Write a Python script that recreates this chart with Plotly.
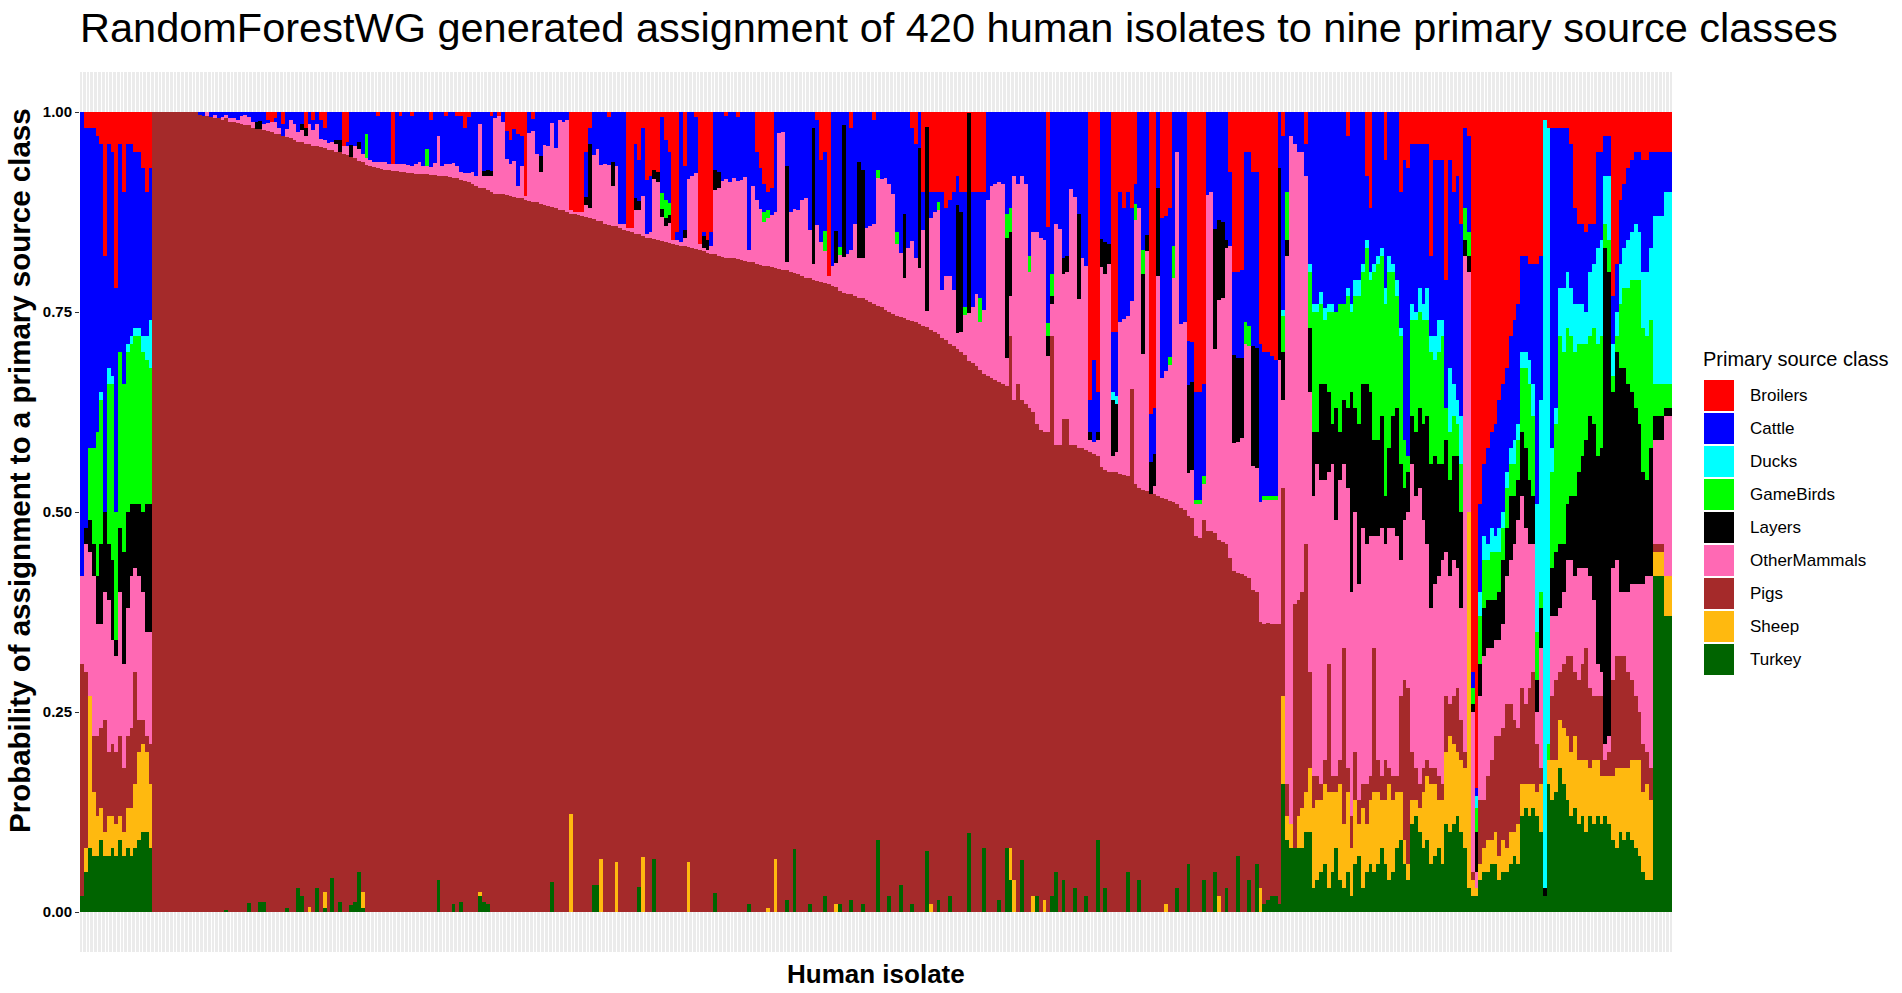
import plotly.graph_objects as go

# share of each human isolate (1..420, left to right) given to each source class,
# in percent -- 20 isolates per line
turkey = [
    2, 5, 8, 7, 7, 9, 7, 7, 8, 7, 9, 7, 8, 7, 8, 9, 10, 10, 8, 0,
    0, 0, 0, 0, 0, 0, 0, 0, 0, 0, 0, 0, 0, 0, 0, 0, 0, 0, 0.3, 0,
    0, 0, 0, 0, 1.1, 0, 0, 1.2, 1.2, 0, 0, 0, 0, 0, 0.5, 0, 0, 3.0, 2.0, 0,
    0, 0, 3.0, 0, 0.5, 0, 4.2, 0, 1.2, 0, 0, 0.9, 1.3, 5.0, 0.5, 0, 0, 0, 0, 0,
    0, 0, 0, 0, 0, 0, 0, 0, 0, 0, 0, 0, 0, 0, 4.0, 0, 0, 0, 1.0, 0,
    1.2, 0, 0, 0, 0, 2.0, 1.2, 1.0, 0, 0, 0, 0, 0, 0, 0, 0, 0, 0, 0, 0,
    0, 0, 0, 0, 3.7, 0, 0, 0, 0, 0, 0, 0, 0, 0, 0, 3.4, 3.4, 0, 0, 0,
    0, 0, 0, 0, 0, 0, 0, 3.1, 0, 0, 0, 6.6, 0, 0, 0, 0, 0, 0, 0, 0,
    0, 0, 0, 0, 0, 0, 0, 2.4, 0, 0, 0, 0, 0, 0, 0, 0, 1.0, 0, 0, 0,
    0, 0, 0, 0, 0, 0, 1.5, 0, 7.9, 0, 0, 0, 1.0, 0, 0, 0, 2.0, 0, 0, 0,
    1.0, 0, 0, 1.5, 0, 0, 1.0, 0, 0, 0, 9.0, 0, 0, 2.0, 0, 0, 3.4, 0, 0, 1.0,
    0, 0, 0, 7.6, 0, 0, 1.5, 0, 0, 2.0, 0, 0, 0, 0, 9.9, 0, 0, 0, 8.0, 0,
    0, 0, 1.5, 0, 8.0, 4.0, 0, 0, 6.5, 0, 0, 0, 2.0, 0, 0, 0, 2.0, 5.0, 0, 4.0,
    0, 0, 3.0, 0, 0, 2.0, 0, 0, 9.0, 0, 3.0, 0, 0, 0, 0, 0, 5.0, 0, 0, 4.0,
    0, 0, 0, 0, 0, 0, 0, 0, 0, 3.0, 0, 0, 6.0, 0, 0, 0, 4.0, 0, 0, 5.0,
    0, 0, 3.0, 0, 0, 7.0, 0, 0, 4.0, 0, 6.0, 0, 1.0, 1.5, 2.0, 2.0, 1.0, 16.0, 9.0, 8.0,
    8, 8, 8, 10, 10, 3, 4, 5, 6, 3, 5, 8, 4, 3, 5, 2, 6, 7, 3, 5,
    6, 5, 6, 8, 6, 4, 5, 8, 9, 6, 4, 11, 12, 10, 8, 9, 6, 7, 8, 6,
    11, 10, 11, 12, 10, 8, 3, 2, 2, 4, 5, 5, 6, 6, 4, 5, 5, 6, 7, 6,
    12, 13, 12, 13, 12, 10, 2, 16, 14, 15, 18, 16, 14, 12, 13, 11, 12, 10, 12, 11,
    12, 11, 12, 11, 9, 8, 10, 9, 10, 9, 8, 7, 5, 4, 4, 42, 42, 42, 37, 37,
]
sheep = [
    0, 3, 19, 8, 5, 4, 3, 5, 4, 4, 3, 3, 5, 6, 8, 11, 11, 10, 8, 0,
    0, 0, 0, 0, 0, 0, 0, 0, 0, 0, 0, 0, 0, 0, 0, 0, 0, 0, 0, 0,
    0, 0, 0, 0, 0, 0, 0, 0, 0, 0, 0, 0, 0, 0, 0, 0, 0, 0, 0, 0,
    0.6, 0, 0, 0, 2.0, 0, 0, 0, 0, 0, 0, 0, 0, 0, 2.0, 0, 0, 0, 0, 0,
    0, 0, 0, 0, 0, 0, 0, 0, 0, 0, 0, 0, 0, 0, 0, 0, 0, 0, 0, 0,
    0, 0, 0, 0, 0, 0.5, 0, 0, 0, 0, 0, 0, 0, 0, 0, 0, 0, 0, 0, 0,
    0, 0, 0, 0, 0, 0, 0, 0, 0, 12.2, 0, 0, 0, 0, 0, 0, 0, 6.6, 0, 0,
    0, 6.2, 0, 0, 0, 0, 0, 0, 6.9, 0, 0, 0, 0, 0, 0, 0, 0, 0, 0, 0,
    6.3, 0, 0, 0, 0, 0, 0, 0, 0, 0, 0, 0, 0, 0, 0, 0, 0, 0, 0, 0,
    0, 0.5, 0, 6.6, 0, 0, 0, 0, 0, 0, 0, 0, 0, 0, 0, 0, 0, 0, 0, 1.0,
    0, 0, 0, 0, 0, 0, 0, 0, 0, 0, 0, 0, 0, 0, 0, 0, 0, 0, 0, 0,
    0, 0, 0, 0, 1.0, 0, 0, 0, 0, 0, 0, 0, 0, 0, 0, 0, 0, 0, 0, 0,
    0, 0, 0, 0, 0, 4.0, 4.0, 0, 0, 0, 0, 2.0, 0, 0, 1.5, 0, 0, 0, 0, 0,
    0, 0, 0, 0, 0, 0, 0, 0, 0, 0, 0, 0, 0, 0, 0, 0, 0, 0, 0, 0,
    0, 0, 0, 0, 0, 0, 1.0, 0, 0, 0, 0, 0, 0, 0, 0, 0, 0, 0, 0, 0,
    2.0, 0, 0, 0, 0, 0, 0, 0, 0, 0, 0, 3.0, 0, 0, 0, 0, 0, 11.0, 3.0, 3.0,
    0, 4, 5, 5, 8, 10, 10, 9, 10, 12, 10, 7, 12, 8, 10, 6, 8, 4, 10, 6,
    8, 10, 9, 6, 8, 12, 9, 7, 6, 3, 2, 3, 2, 3, 7, 8, 10, 9, 6, 8,
    9, 12, 10, 8, 9, 10, 47, 2, 1, 2, 3, 4, 3, 4, 3, 4, 3, 4, 3, 5,
    4, 3, 4, 3, 3, 6, 0, 3, 5, 4, 6, 7, 8, 8, 9, 8, 7, 9, 6, 8,
    7, 6, 5, 6, 8, 10, 8, 9, 8, 10, 11, 12, 10, 12, 10, 3, 3, 3, 5, 5,
]
pigs = [
    29, 22, 0, 7, 10, 10, 14, 8, 9, 9, 10, 8, 9, 10, 14, 4, 3, 2, 5, 100,
    100, 100, 100, 100, 100, 100, 100, 100, 100, 100, 100, 99.6, 99.5, 99.5, 99.4, 99.3, 99.2, 99.0, 98.9, 98.8,
    98.8, 98.6, 98.5, 98.4, 97.3, 98.0, 97.9, 96.7, 96.5, 97.6, 97.5, 97.3, 97.2, 97.0, 96.4, 96.7, 96.5, 93.3, 94.2, 96.0,
    95.4, 95.8, 92.7, 95.6, 93.0, 95.3, 91.0, 95.0, 93.8, 94.8, 94.6, 93.5, 92.9, 88.9, 91.3, 93.4, 93.2, 93.1, 93.0, 92.9,
    92.8, 92.7, 92.6, 92.6, 92.5, 92.5, 92.4, 92.4, 92.3, 92.3, 92.2, 92.2, 92.1, 92.1, 88.0, 92.0, 92.0, 91.9, 90.8, 91.7,
    90.3, 91.4, 91.2, 91.0, 90.8, 88.0, 89.3, 89.2, 90.0, 89.8, 89.7, 89.7, 89.6, 89.5, 89.4, 89.3, 89.2, 89.0, 88.9, 88.8,
    88.7, 88.5, 88.4, 88.2, 84.4, 88.0, 87.8, 87.7, 87.5, 75.1, 87.2, 87.1, 87.0, 86.9, 86.8, 83.2, 83.0, 79.8, 86.0, 85.9,
    85.8, 79.5, 85.5, 85.3, 85.1, 85.0, 84.8, 81.6, 77.6, 84.3, 84.2, 77.5, 84.0, 83.9, 83.8, 83.6, 83.5, 83.4, 83.3, 83.2,
    76.8, 83.0, 82.9, 82.7, 82.6, 82.4, 82.3, 79.8, 82.0, 81.9, 81.8, 81.8, 81.7, 81.6, 81.5, 81.4, 80.3, 81.2, 81.0, 80.9,
    80.8, 80.2, 80.6, 73.9, 80.4, 80.3, 78.7, 80.0, 72.0, 79.7, 79.5, 79.3, 78.2, 79.0, 78.9, 78.7, 76.6, 78.5, 78.3, 77.1,
    76.6, 77.4, 77.3, 75.7, 77.0, 76.8, 75.7, 76.5, 76.3, 76.0, 66.8, 75.6, 75.2, 73.0, 74.8, 74.5, 71.0, 74.2, 74.0, 72.9,
    73.7, 73.5, 73.3, 65.5, 71.8, 72.5, 70.7, 71.8, 71.5, 69.0, 70.7, 70.4, 70.0, 69.6, 59.0, 68.6, 68.2, 67.8, 59.3, 67.0,
    66.7, 66.5, 64.8, 66.0, 57.8, 64.0, 60.0, 66.0, 57.5, 63.5, 63.0, 60.5, 59.0, 60.3, 58.5, 60.0, 70.0, 53.4, 58.4, 57.6,
    61.6, 58.4, 55.4, 58.0, 58.0, 55.8, 57.5, 57.3, 48.0, 55.6, 52.3, 55.0, 55.0, 55.0, 54.8, 54.6, 49.5, 65.4, 53.5, 49.0,
    52.8, 52.6, 52.3, 52.2, 52.0, 51.8, 50.6, 51.4, 51.2, 48.0, 50.5, 50.2, 43.5, 49.2, 47.0, 46.8, 45.0, 47.6, 47.6, 42.4,
    44.5, 46.3, 43.0, 44.3, 42.6, 35.4, 42.2, 42.0, 37.8, 40.3, 34.0, 33.3, 35.0, 34.6, 34.0, 34.0, 35.0, 26.0, 4.0, 0,
    30.5, 27, 27, 31, 12, 4, 3, 2, 3, 16, 2, 2, 3, 22, 3, 4, 6, 3, 3, 5,
    3, 18, 4, 3, 5, 2, 3, 2, 12, 20, 22, 6, 4, 3, 3, 2, 2, 2, 3, 2,
    7, 4, 6, 8, 5, 2, 0, 1, 0, 8, 6, 8, 10, 12, 15, 14, 18, 16, 14, 12,
    12, 10, 12, 14, 6, 2, 0, 0, 8, 10, 6, 8, 10, 12, 8, 10, 12, 14, 10, 8,
    8, 10, 2, 3, 12, 14, 14, 14, 12, 10, 8, 6, 6, 4, 4, 1, 1, 1, 0, 0,
]
other_mammals = [
    11, 16, 18, 20, 14, 13, 16, 19, 13, 12, 18, 13, 16, 19, 13, 18, 16, 13, 14, 0,
    0, 0, 0, 0, 0, 0, 0, 0, 0, 0, 0, 0, 0, 0.5, 0, 0.3, 0, 0.4, 0.4, 0.4,
    0.4, 0.4, 1.0, 1.2, 1.0, 0.8, 0, 0, 0.8, 1.0, 1.2, 1.4, 0.8, 0, 1.0, 2.3, 2.0, 1.2, 1.5, 1.0,
    2.5, 2.0, 2.8, 1.0, 1.0, 0.8, 1.0, 1.0, 0, 1.0, 1.2, 0, 1.5, 1.5, 1.0, 0.8, 0.8, 0.7, 0.8, 0.9,
    1.0, 0.8, 0.9, 0.9, 1.0, 1.0, 1.0, 0.8, 1.2, 1.5, 1.0, 1.0, 1.0, 1.5, 5.0, 1.2, 1.5, 1.6, 1.8, 1.5,
    1.0, 1.0, 1.2, 1.5, 1.2, 8.0, 1.5, 1.8, 2.0, 9.5, 9.8, 9.0, 4.5, 4.0, 4.5, 1.5, 4.0, 0.5, 8.5, 8.8,
    6.0, 4.0, 7.5, 7.6, 10.5, 7.5, 11.2, 11.0, 11.5, 0.5, 0.3, 0.4, 0.5, 1.5, 1.2, 8.0, 9.0, 7.0, 7.5, 7.5,
    5.0, 7.5, 0.5, 0.7, 0.4, 0.5, 3.0, 3.0, 5.0, 0.5, 0.8, 7.5, 7.3, 3.0, 2.0, 2.5, 0.5, 0.6, 0.5, 1.0,
    8.5, 9.0, 9.5, 0.8, 0.4, 0.4, 1.0, 8.0, 8.5, 9.5, 9.8, 9.5, 10.0, 9.8, 10.0, 10.5, 1.5, 9.5, 8.0, 7.0,
    5.5, 6.0, 6.5, 7.0, 17.0, 17.2, 1.0, 7.5, 8.0, 8.0, 9.5, 10.0, 6.0, 2.0, 7.0, 5.0, 4.0, 1.0, 2.5, 3.0,
    4.5, 4.5, 5.0, 5.5, 9.0, 5.0, 5.0, 9.0, 9.5, 10.0, 16.0, 16.0, 16.5, 16.0, 15.0, 9.0, 8.0, 5.0, 9.0, 10.0,
    8.0, 7.0, 12.0, 2.0, 14.0, 15.0, 15.5, 6.0, 8.0, 8.5, 7.0, 2.0, 2.5, 5.0, 6.0, 7.0, 9.0, 6.0, 8.0, 22.0,
    24.0, 24.5, 25.0, 25.0, 3.5, 5.0, 28.0, 25.0, 28.0, 27.5, 17.0, 22.5, 24.0, 24.0, 24.0, 9.5, 4.0, 27.6, 27.0, 18.2,
    18.4, 32.0, 31.0, 18.6, 23.7, 23.0, 1.5, 1.5, 2.0, 25.0, 24.5, 26.0, 2.0, 2.5, 19.0, 19.5, 20.0, 11.0, 33.0, 35.0,
    17.0, 30.0, 0, 1.0, 27.5, 15.0, 16.0, 17.0, 28.0, 44.0, 23.0, 23.5, 5.4, 6.0, 4.0, 4.2, 4.5, 42.0, 42.4, 23.0,
    30.0, 30.5, 37.0, 39.0, 16.0, 16.4, 17.0, 29.0, 29.0, 15.5, 15.5, 15.0, 15.5, 15.5, 15.5, 15.5, 33.0, 11.0, 66.0, 86.0,
    57.5, 56, 55, 46, 35, 35, 39, 38, 35, 24, 39, 32, 35, 23, 35, 28, 30, 27, 32, 30,
    30, 14, 28, 31, 27, 30, 31, 30, 17, 20, 22, 36, 34, 37, 31, 27, 20, 23, 25, 28,
    18, 16, 17, 15, 14, 62, 30, 20, 2, 13, 18, 16, 14, 12, 12, 13, 16, 18, 22, 26,
    24, 22, 18, 16, 4, 15, 0, 0, 10, 8, 8, 9, 12, 12, 12, 14, 12, 10, 14, 12,
    4, 3, 2, 2, 14, 12, 8, 8, 10, 12, 14, 16, 20, 22, 24, 13, 13, 13, 20, 20,
]
layers = [
    0, 2, 4, 4, 6, 10, 10, 7, 10, 2, 8, 14, 12, 9, 8, 9, 10, 16, 16, 0,
    0, 0, 0, 0, 0, 0, 0, 0, 0, 0, 0, 0, 0, 0, 0, 0, 0, 0, 0, 0,
    0, 0, 0, 0, 0, 0, 0.8, 1.0, 0, 0, 0, 0, 0, 0, 0, 0, 0, 0, 0.8, 1.0,
    0, 0, 0, 0, 0, 0, 0, 0.5, 1.5, 0, 0, 1.5, 0, 0.8, 0, 0, 0, 0, 0, 0,
    0, 0, 0, 0, 0, 0, 0, 0, 0, 0, 0, 0, 0, 0, 0, 0, 0, 0, 0, 0,
    0, 0, 0, 0, 0, 0, 0.6, 0.7, 0.6, 0, 0, 0, 0, 0, 0, 0, 0, 0, 0, 0,
    0, 2.0, 0, 0, 0, 0, 0, 0, 0, 0, 0, 0, 0, 1.0, 8.0, 0, 0, 0, 0, 0,
    3.0, 0, 0, 0, 0, 0, 1.5, 1.2, 0, 0, 0, 1.2, 1.2, 1.0, 1.0, 1.0, 0, 0, 0, 1.0,
    0, 0, 0, 0, 1.5, 1.2, 0, 2.5, 2.0, 0, 0, 0, 0, 0, 0, 0, 0, 0, 0, 0,
    0, 0, 0, 0, 0, 0, 12.0, 0, 0, 0, 0, 0, 0, 17.0, 0, 0, 0, 0, 0, 4.0,
    0, 16.5, 0, 0, 0, 12.0, 11.0, 0, 0, 0, 0, 0, 0, 0, 0, 0, 0, 8.0, 0, 0,
    0, 15.0, 0, 23.0, 0, 0, 0, 0, 0, 0, 0, 16.0, 15.0, 0, 25.0, 0, 0, 0, 0, 0,
    0, 0, 0, 0, 15.0, 8.0, 0, 0, 0, 0, 0, 0, 0, 0, 0, 2.5, 1.0, 0, 0, 2.0,
    2.0, 0, 0, 10.6, 0, 0, 1.0, 0, 1.0, 3.5, 4.0, 2.5, 7.0, 6.0, 0, 0, 0, 0, 0, 0,
    10.0, 2.0, 4.0, 4.0, 11.0, 0, 0, 0, 0, 0, 0, 0, 11.0, 11.0, 0, 0, 0, 0, 0, 15.0,
    10.0, 9.5, 1.0, 0, 11.0, 10.5, 10.0, 0, 0, 15.0, 15.0, 0, 0, 0, 0, 0, 24.0, 6.0, 2.0, 0,
    0, 0, 0, 0, 8, 8, 4, 12, 12, 10, 5, 14, 6, 8, 10, 25, 13, 20, 18, 20,
    18, 12, 12, 14, 6, 10, 14, 16, 12, 4, 5, 6, 8, 10, 12, 16, 18, 16, 14, 12,
    14, 12, 13, 14, 12, 2, 2, 1, 5, 4, 6, 6, 6, 5, 6, 8, 6, 8, 6, 5,
    8, 10, 8, 6, 4, 5, 1, 0, 6, 8, 8, 6, 7, 8, 10, 12, 14, 16, 20, 22,
    26, 28, 62, 58, 22, 26, 28, 28, 26, 24, 22, 20, 14, 12, 16, 3, 3, 3, 1, 1,
]
game_birds = [
    0, 0, 9, 12, 18, 18, 0, 20, 22, 16, 22, 21, 20, 20, 21, 21, 20, 18, 17, 0,
    0, 0, 0, 0, 0, 0, 0, 0, 0, 0, 0, 0, 0, 0, 0, 0, 0, 0, 0, 0,
    0, 0, 0, 0, 0, 0, 0, 0, 0, 0, 0, 0, 0, 0, 0, 0, 0, 0, 0, 0,
    0, 0, 0, 0, 0, 0, 0, 0, 0, 0, 0, 0, 0, 0, 0, 3.0, 0, 0, 0, 0,
    0, 0, 0, 0, 0, 0, 0, 0, 0, 0, 0, 2.2, 0, 0, 0, 0, 0, 0, 0, 0,
    0, 0, 0, 0, 0, 0, 0, 0, 0, 0, 0, 0, 0, 0, 0, 0, 0, 0, 0, 0,
    0, 0, 0, 0, 0, 0, 0, 0, 0, 0, 0, 0, 0, 0, 0, 0, 0, 0, 0, 0,
    0, 0, 0, 0, 0, 0, 0, 0, 0, 0, 0, 0, 0, 2.0, 2.2, 1.5, 0, 0, 0, 0,
    0, 0, 0, 0, 0, 0, 0, 0, 0, 0, 0, 0, 0, 0, 0, 0, 0, 0, 0, 0,
    1.2, 1.0, 0, 0, 0, 0, 0, 0, 0, 0, 0, 0, 0, 0, 0, 0, 2.5, 0, 0, 0,
    1.0, 0, 0, 0, 0, 0, 0, 0, 0, 0, 1.0, 0, 0, 0, 0, 1.5, 0, 0, 0, 0,
    0, 0, 0, 0, 0, 0, 1.0, 0, 0, 0, 0, 0, 0, 1.0, 0, 0, 0, 3.0, 0, 0,
    0, 0, 0, 0, 3.0, 3.0, 0, 0, 0, 0, 2.0, 0, 0, 0, 0, 1.6, 2.8, 0, 0, 0,
    0, 0, 0, 0, 0, 0, 0, 0, 0, 0, 0, 0, 0, 0, 0, 0, 0, 0, 2.0, 0,
    3.0, 0, 0, 0, 0, 0, 0, 1.0, 4.0, 0, 0, 0, 0, 0, 0.5, 0.5, 1.0, 0, 0, 0,
    0, 0, 0, 0, 0, 0, 0, 2.7, 2.5, 0, 0, 0, 0.5, 0.5, 0.5, 0.5, 0, 4.5, 6.0, 0,
    0, 0, 0, 0, 7, 15, 15, 10, 8, 10, 14, 12, 16, 12, 14, 10, 14, 16, 14, 17,
    14, 21, 22, 20, 24, 22, 18, 14, 16, 6, 2, 12, 14, 12, 13, 12, 14, 12, 14, 16,
    4, 6, 5, 4, 6, 4, 3, 2, 3, 6, 6, 5, 6, 6, 5, 4, 5, 4, 4, 5,
    8, 10, 12, 10, 6, 2, 0, 2, 12, 16, 26, 24, 22, 20, 18, 16, 14, 12, 10, 12,
    14, 14, 3, 4, 2, 2, 8, 10, 12, 14, 16, 18, 18, 18, 16, 4, 4, 4, 3, 3,
]
ducks = [
    0, 0, 0, 0, 0, 1, 0, 2, 1, 0, 0, 0, 1, 1, 1, 1, 2, 3, 6, 0,
    0, 0, 0, 0, 0, 0, 0, 0, 0, 0, 0, 0, 0, 0, 0, 0, 0, 0, 0, 0,
    0, 0, 0, 0, 0, 0, 0, 0, 0, 0, 0, 0, 0, 0, 0, 0, 0, 0, 0, 0,
    0, 0, 0, 0, 0, 0, 0, 0, 0, 0, 0, 0, 0, 0, 0, 0, 0, 0, 0, 0,
    0, 0, 0, 0, 0, 0, 0, 0, 0, 0, 0, 0, 0, 0, 0, 0, 0, 0, 0, 0,
    0, 0, 0, 0, 0, 0, 0, 0, 0, 0, 0, 0, 0, 0, 0, 0, 0, 0, 0, 0,
    0, 0, 0, 0, 0, 0, 0, 0, 0, 0, 0, 0, 0, 0, 0, 0, 0, 0, 0, 0,
    0, 0, 0, 0, 0, 0, 0, 0, 0, 0, 0, 0, 0, 0, 0, 0, 0, 0, 0, 0,
    0, 0, 0, 0, 0, 0, 0, 0, 0, 0, 0, 0, 0, 0, 0, 0, 0, 0, 0, 0,
    0, 0, 0, 0, 0, 0, 0, 0, 0, 0, 0, 0, 0, 0, 0, 0, 0, 0, 0, 0,
    0, 0, 0, 0, 0, 0, 0, 0, 0, 0, 0, 0, 0, 0, 0, 0, 0, 0, 0, 0,
    0, 0, 0, 0, 0, 0, 0, 0, 0, 0, 0, 0, 0, 0, 0, 0, 0, 0, 0, 0,
    0, 0, 0, 0, 0, 0, 0, 0, 0, 0, 0, 0, 0, 0, 0, 0, 0, 0, 0, 0,
    0, 0, 0, 0, 0, 0, 0, 0, 0, 0, 0, 0, 1.0, 1.0, 0, 0, 0, 0, 0, 0,
    0, 0, 0, 0, 0, 0, 0, 0, 0, 0, 0, 0, 0, 0, 0, 0, 0, 0, 0, 0,
    0, 0, 0, 0, 0, 0, 0, 0, 0, 0, 0, 0, 0, 0, 0, 0, 0, 0.8, 0, 0,
    0, 0, 0, 0, 1, 1, 1, 1.5, 1.5, 1, 1, 0, 0, 0, 1, 1, 2, 2, 1, 1,
    1, 1, 1, 1, 2, 2, 1, 2, 1, 0, 0, 2, 1, 3, 2, 4, 2, 3, 4, 2,
    0, 8, 4, 3, 6, 0, 0, 0, 1.5, 3, 3, 2, 3, 2, 3, 2, 2, 2, 3, 2,
    2, 2, 3, 4, 16, 24, 96, 77, 3, 2, 6, 8, 7, 6, 6, 5, 5, 4, 8, 8,
    12, 12, 6, 8, 4, 3, 5, 5, 6, 6, 7, 6, 7, 8, 9, 21, 21, 21, 24, 24,
]
cattle = [
    58, 50, 40, 40, 37, 31, 32, 28, 28, 28, 26, 24, 25, 24, 22, 22, 21, 18, 19, 0,
    0, 0, 0, 0, 0, 0, 0, 0, 0, 0, 0, 0.4, 0.5, 0, 0.6, 0.4, 0.8, 0.6, 0.4, 0.8,
    0.8, 1.0, 0.5, 0.4, 0.6, 1.2, 1.3, 1.1, 1.5, 0.4, 0, 0.5, 2.0, 1.5, 2.1, 1.0, 1.5, 2.5, 1.5, 0,
    1.5, 1.2, 1.5, 2.4, 1.5, 3.9, 3.8, 3.5, 3.5, 0, 0.5, 4.1, 4.3, 3.8, 5.2, 2.8, 6.0, 6.2, 5.7, 6.2,
    6.2, 6.5, 0, 6.5, 6.0, 6.5, 6.6, 6.3, 6.5, 6.2, 6.8, 4.6, 5.9, 6.4, 3.0, 6.8, 6.0, 6.5, 6.4, 6.3,
    7.0, 5.6, 7.0, 7.5, 8.0, 1.5, 7.4, 7.3, 6.9, 0.7, 0, 1.3, 3.5, 3.0, 4.0, 6.5, 3.8, 0, 2.6, 1.5,
    5.3, 5.5, 4.1, 4.2, 1.4, 4.5, 1.0, 1.3, 1.0, 0, 0, 0, 0, 5.6, 2.0, 5.4, 4.6, 6.6, 6.5, 6.0,
    6.2, 6.8, 14.0, 14.0, 0, 0, 6.7, 5.1, 8.5, 6.7, 7.0, 0, 0, 9.5, 7.5, 6.4, 0, 1.0, 16.2, 8.0,
    8.4, 8.0, 7.0, 0, 0.5, 0, 1.7, 7.3, 7.5, 8.6, 7.9, 8.7, 8.3, 8.0, 8.5, 8.1, 17.2, 9.3, 6.0, 5.1,
    3.5, 2.3, 3.4, 12.5, 2.6, 2.5, 6.8, 12.5, 12.1, 12.3, 11.0, 10.7, 14.8, 2.0, 13.1, 10.3, 9.9, 0, 19.2, 14.9,
    16.9, 1.6, 17.7, 15.3, 14.0, 6.2, 7.3, 14.5, 14.2, 13.0, 7.2, 8.4, 8.3, 9.0, 10.2, 15.0, 17.6, 12.8, 17.0, 14.1,
    14.3, 4.5, 4.7, 0, 3.2, 2.5, 1.3, 12.2, 8.5, 9.5, 12.3, 3.6, 2.5, 14.4, 0, 14.4, 12.8, 13.2, 14.7, 11.0,
    9.3, 9.0, 8.7, 9.0, 12.7, 12.0, 8.0, 9.0, 8.0, 9.0, 18.0, 15.0, 15.0, 15.7, 16.0, 12.0, 20.2, 14.0, 14.6, 18.2,
    18.0, 9.6, 10.6, 12.8, 18.3, 19.2, 4.0, 10.2, 5.0, 15.9, 16.2, 16.5, 7.5, 8.0, 16.2, 13.9, 15.5, 11.6, 2.5, 12.0,
    17.2, 15.4, 6.0, 5.8, 9.5, 20.0, 19.4, 18.6, 16.8, 5.0, 26.5, 26.3, 5.5, 5.0, 13.5, 13.5, 11.5, 10.4, 10.0, 14.6,
    13.5, 13.7, 16.0, 9.2, 10.4, 10.7, 11.0, 21.3, 21.7, 21.7, 22.0, 19.7, 18.0, 18.0, 17.5, 17.0, 7.0, 21.7, 10.0, 3.0,
    4, 5, 5, 4, 19, 24, 24, 22.5, 24.5, 24, 24, 25, 24, 24, 19, 24, 21, 21, 19, 8,
    8, 19, 18, 17, 16, 18, 19, 21, 17, 35, 36, 20, 21, 18, 20, 18, 10, 22, 20, 20,
    16, 26, 24, 28, 24, 10, 12, 2, 1, 11, 9, 12, 12, 14, 16, 16, 13, 14, 15, 15,
    12, 12, 12, 15, 30, 18, 0, 0, 40, 35, 20, 20, 18, 18, 12, 10, 10, 10, 6, 5,
    12, 11, 5, 5, 6, 6, 8, 8, 9, 9, 9, 10, 14, 14, 12, 8, 8, 8, 5, 5,
]
broilers = [
    0, 2, 2, 2, 3, 4, 18, 4, 5, 22, 4, 10, 4, 4, 5, 5, 7, 10, 7, 0,
    0, 0, 0, 0, 0, 0, 0, 0, 0, 0, 0, 0, 0, 0, 0, 0, 0, 0, 0, 0,
    0, 0, 0, 0, 0, 0, 0, 0, 0, 1.0, 1.3, 0.8, 0, 1.5, 0, 0, 0, 0, 0, 2.0,
    0, 1.0, 0, 1.0, 2.0, 0, 0, 0, 0, 4.2, 3.7, 0, 0, 0, 0, 0, 0, 0, 0.5, 0,
    0, 0, 6.5, 0, 0.5, 0, 0, 0.5, 0, 0, 0, 0, 1.0, 0, 0, 0, 0.5, 0, 0, 0.5,
    0.5, 2.0, 0.6, 0, 0, 0, 0, 0, 0.5, 0, 0.5, 0, 2.4, 3.5, 2.1, 2.7, 3.0, 10.5, 0, 0.9,
    0, 0, 0, 0, 0, 0, 0, 0, 0, 12.2, 12.5, 12.5, 12.5, 5.0, 2.0, 0, 0, 0, 0, 0.6,
    0, 0, 0, 0, 14.5, 14.5, 4.0, 6.0, 2.0, 8.5, 8.0, 7.2, 7.5, 0.6, 3.5, 5.0, 16.0, 15.0, 0, 6.8,
    0, 0, 0.6, 16.5, 15.0, 16.0, 15.0, 0, 0, 0, 0.5, 0, 0, 0.6, 0, 0, 0, 0, 5.0, 7.0,
    9.0, 10.0, 9.5, 0, 0, 0, 0, 0, 0, 0, 0, 0, 0, 0, 1.0, 6.0, 5.0, 20.5, 0, 0,
    0, 0, 0, 2.0, 0, 0, 0, 0, 0, 1.0, 0, 0, 0, 0, 0, 0, 0, 0, 0, 2.0,
    4.0, 0, 10.0, 1.9, 10.0, 10.0, 10.0, 10.0, 12.0, 11.0, 10.0, 8.0, 10.0, 10.0, 0.1, 10.0, 10.0, 10.0, 10.0, 0,
    0, 0, 0, 0, 0, 0, 0, 0, 0, 0, 0, 0, 0, 0, 0, 14.4, 0, 0, 0, 0,
    0, 0, 0, 0, 0, 0, 36.0, 31.0, 35.0, 0, 0, 0, 27.5, 27.5, 10.0, 12.0, 10.0, 12.0, 9.0, 0,
    0, 0, 37.7, 37.0, 0, 13.2, 13.0, 12.0, 0, 0, 0, 0, 28.6, 28.8, 35.0, 35.0, 34.0, 0, 0, 0,
    0, 0, 0, 7.5, 20.0, 20.0, 19.8, 5.0, 5.0, 7.5, 7.5, 29.0, 30.0, 30.0, 30.5, 31.0, 0, 3.0, 0, 0,
    0, 0, 0, 4, 0, 0, 0, 0, 0, 0, 0, 0, 0, 0, 3, 0, 0, 0, 0, 8,
    12, 0, 0, 0, 6, 0, 0, 0, 10, 6, 7, 4, 4, 4, 4, 4, 18, 6, 6, 6,
    21, 6, 10, 8, 14, 2, 3, 70, 84.5, 49, 44, 42, 40, 39, 36, 34, 32, 28, 26, 24,
    18, 18, 19, 19, 19, 18, 1, 2, 2, 2, 2, 2, 2, 4, 12, 14, 14, 15, 14, 14,
    5, 5, 3, 3, 23, 19, 11, 9, 7, 6, 5, 5, 6, 6, 5, 5, 5, 5, 5, 5,
]

# legend order (top of the stack first) and ggplot-like colours
classes = ["Broilers", "Cattle", "Ducks", "GameBirds", "Layers",
           "OtherMammals", "Pigs", "Sheep", "Turkey"]
colours = {
    "Broilers": "#FF0000", "Cattle": "#0000FF", "Ducks": "#00FFFF",
    "GameBirds": "#00FF00", "Layers": "#000000", "OtherMammals": "#FF69B4",
    "Pigs": "#A52A2A", "Sheep": "#FFB90F", "Turkey": "#006400",
}
series = {
    "Broilers": broilers, "Cattle": cattle, "Ducks": ducks,
    "GameBirds": game_birds, "Layers": layers, "OtherMammals": other_mammals,
    "Pigs": pigs, "Sheep": sheep, "Turkey": turkey,
}

n = len(pigs)
for name in classes:
    if len(series[name]) != n:
        raise ValueError(f"{name} has {len(series[name])} values, expected {n}")

# each isolate's probabilities add up to one
totals = [sum(series[c][i] for c in classes) for i in range(n)]
isolates = list(range(1, n + 1))

FONT = "Liberation Sans, Arial, Helvetica, sans-serif"
W, H = 1902, 993
ML, MR, MT, MB = 80, 230, 72, 41


def px(x):
    # page pixel -> paper x
    return (x - ML) / (W - ML - MR)


def py(y):
    # page pixel -> paper y
    return (H - MB - y) / (H - MT - MB)


fig = go.Figure()
# bottom of the stack first
for name in reversed(classes):
    fig.add_trace(go.Bar(
        x=isolates,
        y=[v / t for v, t in zip(series[name], totals)],
        name=name,
        marker=dict(color=colours[name], line=dict(width=0)),
        showlegend=False,
    ))

fig.update_layout(
    width=W, height=H,
    barmode="stack", bargap=0,
    paper_bgcolor="white", plot_bgcolor="#EBEBEB",
    margin=dict(l=ML, r=MR, t=MT, b=MB, autoexpand=False),
    font=dict(family=FONT, color="black"),
    title=dict(
        text="RandomForestWG generated assignment of 420 human isolates to nine primary source classes",
        x=ML / W, xanchor="left", xref="container",
        y=1 - 27 / H, yanchor="middle", yref="container",
        font=dict(size=41.5, color="black", family=FONT),
    ),
    xaxis=dict(
        range=[0.4, n + 0.6],
        tickmode="linear", tick0=1, dtick=1,
        showticklabels=False, ticks="",
        showgrid=True, gridcolor="white", gridwidth=1,
        zeroline=False, showline=False,
    ),
    yaxis=dict(
        range=[-0.05, 1.05],
        tickmode="array",
        tickvals=[0, 0.25, 0.5, 0.75, 1],
        ticktext=["<b>0.00</b>", "<b>0.25</b>", "<b>0.50</b>", "<b>0.75</b>", "<b>1.00</b>"],
        tickfont=dict(size=15, color="black", family=FONT),
        ticks="outside", ticklen=4, tickwidth=1, tickcolor="#333333",
        showgrid=False, zeroline=False, showline=False,
    ),
)

# axis titles
fig.add_annotation(
    text="<b>Human isolate</b>", x=px(876), y=py(974),
    xref="paper", yref="paper", xanchor="center", yanchor="middle",
    showarrow=False, font=dict(size=26, color="black", family=FONT),
)
fig.add_annotation(
    text="<b>Probability of assignment to a primary source class</b>",
    x=px(20), y=py(471), textangle=-90,
    xref="paper", yref="paper", xanchor="center", yanchor="middle",
    showarrow=False, font=dict(size=29.5, color="black", family=FONT),
)

# legend drawn by hand so the keys get the big ggplot squares
fig.add_annotation(
    text="Primary source class", x=px(1701), y=py(359),
    xref="paper", yref="paper", xanchor="left", yanchor="middle",
    showarrow=False, font=dict(size=20, color="black", family=FONT),
)
for i, name in enumerate(classes):
    top = 380 + 33 * i
    fig.add_shape(
        type="rect", xref="paper", yref="paper",
        x0=px(1704), x1=px(1734), y0=py(top + 31), y1=py(top),
        fillcolor=colours[name], line=dict(width=0),
    )
    fig.add_annotation(
        text=name, x=px(1748), y=py(top + 15.5),
        xref="paper", yref="paper", xanchor="left", yanchor="middle",
        showarrow=False, font=dict(size=17, color="black", family=FONT),
    )

# the page's default 8px body margin would push the figure off the window
fig.write_html(
    "out.html",
    config={"displayModeBar": False},
    post_script="document.body.style.margin = '0px';",
)
